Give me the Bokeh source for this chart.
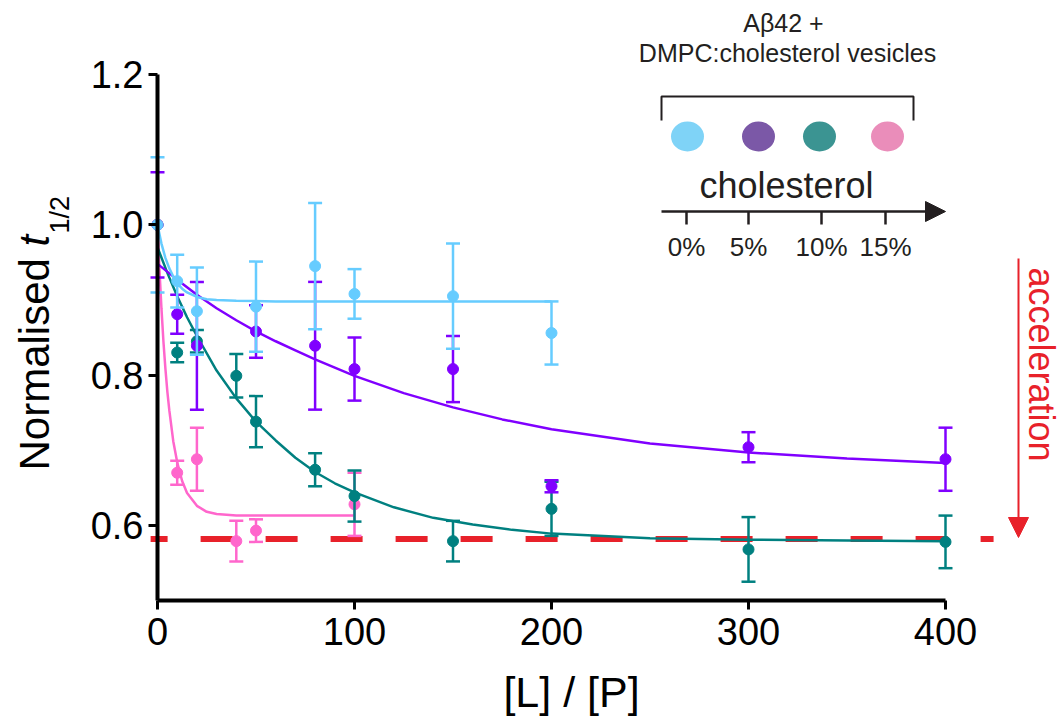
import math
from bokeh.plotting import figure
from bokeh.models import Range1d, FixedTicker, PrintfTickFormatter, Label, Arrow, NormalHead
from bokeh.embed import file_html
from bokeh.resources import INLINE

# ---------------- data ----------------
series_names = ["0%", "5%", "10%", "15%"]

lp_0 = [0, 10, 20, 50, 80, 100, 150, 200]
t_0 = [1.0, 0.925, 0.885, 0.891, 0.945, 0.908, 0.905, 0.856]
err_0 = [0.09, 0.035, 0.058, 0.060, 0.084, 0.033, 0.070, 0.042]

lp_5 = [0, 10, 20, 50, 80, 100, 150, 200, 300, 400]
t_5 = [1.0, 0.881, 0.839, 0.858, 0.839, 0.808, 0.808, 0.652, 0.704, 0.688]
err_5 = [0.07, 0.026, 0.085, 0.035, 0.085, 0.042, 0.044, 0.008, 0.020, 0.042]

lp_10 = [0, 10, 20, 40, 50, 80, 100, 150, 200, 300, 400]
t_10 = [1.0, 0.830, 0.845, 0.799, 0.738, 0.674, 0.639, 0.579, 0.622, 0.568, 0.578]
err_10 = [0.0, 0.013, 0.015, 0.029, 0.034, 0.022, 0.034, 0.027, 0.036, 0.043, 0.035]

lp_15 = [0, 10, 20, 40, 50, 100]
t_15 = [1.0, 0.670, 0.688, 0.579, 0.593, 0.628]
err_15 = [0.0, 0.016, 0.042, 0.027, 0.015, 0.042]

# fitted curves at these x positions
fit_x_0 = [0, 2, 4, 6, 8, 10, 12.5, 15, 20, 25, 30, 40, 60, 100, 150, 200]
fit_y_0 = [1.0, 0.975, 0.956, 0.942, 0.931, 0.922, 0.915, 0.910, 0.904, 0.901, 0.900, 0.899, 0.898, 0.898, 0.898, 0.898]

fit_x_5 = [0, 10, 20, 30, 40, 50, 60, 70, 80, 90, 100, 125, 150, 175, 200, 250, 300, 350, 400]
fit_y_5 = [0.948, 0.927, 0.907, 0.889, 0.873, 0.858, 0.845, 0.833, 0.821, 0.810, 0.799, 0.776, 0.757, 0.741, 0.728, 0.709, 0.697, 0.689, 0.683]

fit_x_10 = [0, 5, 10, 15, 20, 30, 40, 50, 60, 70, 80, 90, 100, 120, 140, 160, 180, 200, 250, 300, 350, 400]
fit_y_10 = [0.970, 0.936, 0.905, 0.877, 0.852, 0.806, 0.769, 0.738, 0.713, 0.690, 0.671, 0.656, 0.644, 0.624, 0.610, 0.601, 0.594, 0.589, 0.583, 0.581, 0.580, 0.579]

fit_x_15 = [0, 1, 2, 3, 4, 5, 6, 8, 10, 12.5, 15, 20, 25, 30, 40, 60, 100]
fit_y_15 = [1.0, 0.940, 0.889, 0.845, 0.809, 0.778, 0.753, 0.712, 0.684, 0.659, 0.643, 0.626, 0.618, 0.615, 0.613, 0.613, 0.613]

ref_level = 0.582            # red dashed "maximum acceleration" level
ref_x = [-3.5, 424.4]

x_ticks = [0, 100, 200, 300, 400]
y_ticks = [0.6, 0.8, 1.0, 1.2]

# ---------------- styling ----------------
FONT = "Liberation Sans"
COLORS = ["#66ccff", "#8000ff", "#008080", "#ff66cc"]
LEGEND_COLORS = ["#7fd3f7", "#7b58a7", "#3b9492", "#ea8dba"]
RED = "#e8212a"
DARK = "#231f20"
SHIFT = 0.42   # baseline correction (fraction of font size)

# pixel <-> data helpers (the frame fills the whole 1061 x 718 canvas)
X0_PX, PX_PER_X = 157.0, 1.97
Y_BOT_PX, PX_PER_Y = 600.0, 526.0 / 0.7


def px_x(px):
    return (px - X0_PX) / PX_PER_X


def px_y(py):
    return 0.5 + (Y_BOT_PX - py) / PX_PER_Y


p = figure(width=1061, height=718, output_backend="svg", toolbar_location=None,
           x_range=Range1d(px_x(0), px_x(1061)), y_range=Range1d(px_y(718), px_y(0)),
           min_border_left=0, min_border_right=0, min_border_top=0, min_border_bottom=0)
p.grid.visible = False
p.outline_line_color = None
p.background_fill_color = "white"
p.border_fill_color = "white"

for ax in (p.xaxis[0], p.yaxis[0]):
    ax.axis_line_width = 4
    ax.axis_line_color = "black"
    ax.major_tick_line_width = 3
    ax.major_tick_line_color = "black"
    ax.major_tick_out = 9
    ax.major_tick_in = 0
    ax.minor_tick_out = 0
    ax.minor_tick_in = 0
    ax.major_label_text_font = FONT
    ax.major_label_text_font_size = "38px"
    ax.major_label_text_color = "black"

p.xaxis.ticker = FixedTicker(ticks=x_ticks)
p.xaxis.bounds = (0, 400)
p.xaxis.fixed_location = 0.5
p.xaxis.major_label_standoff = 8

p.yaxis.ticker = FixedTicker(ticks=y_ticks)
p.yaxis.formatter = PrintfTickFormatter(format="%.1f")
p.yaxis.bounds = (0.5, 1.2)
p.yaxis.fixed_location = 0
p.yaxis.major_label_standoff = 5

# red dashed reference level
p.line(ref_x, [ref_level, ref_level], line_color=RED, line_width=6,
       line_dash="32 33", line_dash_offset=15)

# series: draw pink, teal, purple, cyan (cyan on top)
series = [
    (lp_15, t_15, err_15, fit_x_15, fit_y_15, COLORS[3]),
    (lp_10, t_10, err_10, fit_x_10, fit_y_10, COLORS[2]),
    (lp_5, t_5, err_5, fit_x_5, fit_y_5, COLORS[1]),
    (lp_0, t_0, err_0, fit_x_0, fit_y_0, COLORS[0]),
]
for xs, ys, es, fx, fy, col in series:
    p.line(fx, fy, line_color=col, line_width=2.5)
    ex = [x for x, e in zip(xs, es) if e > 0]
    up = [y + e for y, e in zip(ys, es) if e > 0]
    lo = [y - e for y, e in zip(ys, es) if e > 0]
    p.segment(x0=ex, y0=lo, x1=ex, y1=up, line_color=col, line_width=2.5)
    p.scatter(ex + ex, up + lo, marker="dash", size=14, line_color=col, line_width=2.5)
    p.scatter(xs, ys, marker="circle", size=11, fill_color=col, line_color=col)


def add_text(text, x_px, y_px, size, color=DARK, angle=0.0, align="center", style="normal",
             baseline="alphabetic"):
    """Place a text with its alphabetic baseline at the given pixel spot."""
    d = SHIFT * size if baseline == "alphabetic" else 0.0
    if angle == 0:
        y_px -= d
    elif angle > 0:       # reading upward, glyph 'down' points right
        x_px -= d
    else:                 # reading downward, glyph 'down' points left
        x_px += d
    p.add_layout(Label(x=px_x(x_px), y=px_y(y_px), text=text, angle=angle,
                       text_align=align, text_baseline=baseline,
                       text_font=FONT, text_font_size=f"{size}px",
                       text_font_style=style, text_color=color))


# acceleration arrow + label
p.add_layout(Arrow(x_start=px_x(1018), y_start=px_y(258), x_end=px_x(1018), y_end=px_y(537),
                   line_color=RED, line_width=2,
                   end=NormalHead(size=20, fill_color=RED, line_color=RED, line_width=1)))
add_text("acceleration", 1041, 364, 36, color=RED, angle=-math.pi / 2, baseline="middle")

# axis titles
add_text("[L] / [P]", 571, 710, 43, color="black")
add_text("Normalised ", 52, 470, 42, color="black", angle=math.pi / 2, align="left")
add_text("t", 52, 246, 42, color="black", angle=math.pi / 2, align="left", style="italic")
add_text("1/2", 71, 233, 27, color="black", angle=math.pi / 2, align="left")

# legend block (top right)
add_text("A\u03b242 +", 783, 33, 25)
add_text("DMPC:cholesterol vesicles", 787, 63, 25)
p.line([px_x(661), px_x(661), px_x(913), px_x(913)],
       [px_y(120), px_y(96), px_y(96), px_y(120)], line_color=DARK, line_width=2)
leg_px = [687, 758, 819, 887]
p.ellipse(x=[px_x(v) for v in leg_px], y=[px_y(136)] * 4, width=33, height=30,
          width_units="screen", height_units="screen",
          fill_color=LEGEND_COLORS, line_color=None)
add_text("cholesterol", 786, 200, 36)
p.add_layout(Arrow(x_start=px_x(661), y_start=px_y(211), x_end=px_x(945), y_end=px_y(211),
                   line_color=DARK, line_width=2.5,
                   end=NormalHead(size=20, fill_color=DARK, line_color=DARK, line_width=1)))
tick_px = [686, 748, 821, 885]
p.segment(x0=[px_x(v) for v in tick_px], y0=[px_y(211)] * 4,
          x1=[px_x(v) for v in tick_px], y1=[px_y(224)] * 4, line_color=DARK, line_width=2.5)
for v, name in zip(tick_px, series_names):
    add_text(name, v, 257, 26)

open("out.html", "w").write(file_html(p, INLINE))
